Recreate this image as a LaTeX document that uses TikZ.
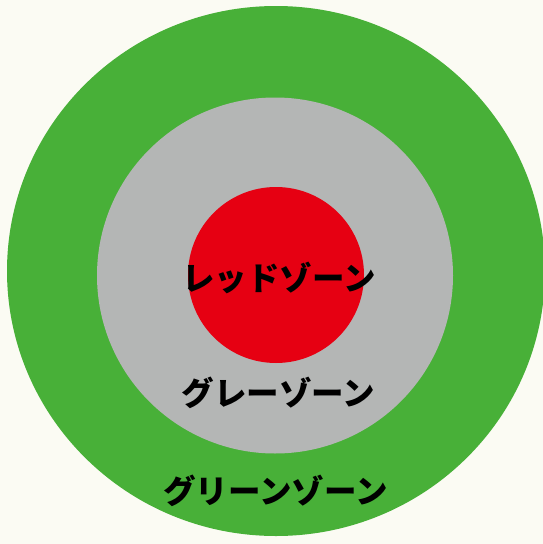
\documentclass[tikz,border=0pt]{standalone}
\usepackage{fontspec}
\newfontfamily\jp{Noto Sans CJK JP}
\definecolor{bgc}{RGB}{251,251,243}
\definecolor{zgreen}{RGB}{72,176,56}
\definecolor{zgray}{RGB}{180,182,181}
\definecolor{zred}{RGB}{230,0,18}
\tikzset{
  zonelabel/.style={anchor=base, inner sep=0pt, font=\jp\bfseries\fontsize{32.5}{32.5}\selectfont, text=black},
  zone/.style={draw=none}
}
\begin{document}
\begin{tikzpicture}[x=1pt,y=-1pt]
\fill[bgc] (0,0) rectangle (543,544);
\useasboundingbox (0,0) rectangle (543,544);
\fill[zgreen] (276,271) ellipse [x radius=269, y radius=265];
\fill[zgray] (275,275.5) circle (178);
\fill[zred] (276,275) circle (88);
\node[zonelabel] (red) at (279,290) {レッドゾーン};
\node[zonelabel] (gray) at (278.5,405) {グレーゾーン};
\node[zonelabel] (green) at (275.5,503) {グリーンゾーン};
\end{tikzpicture}
\end{document}
